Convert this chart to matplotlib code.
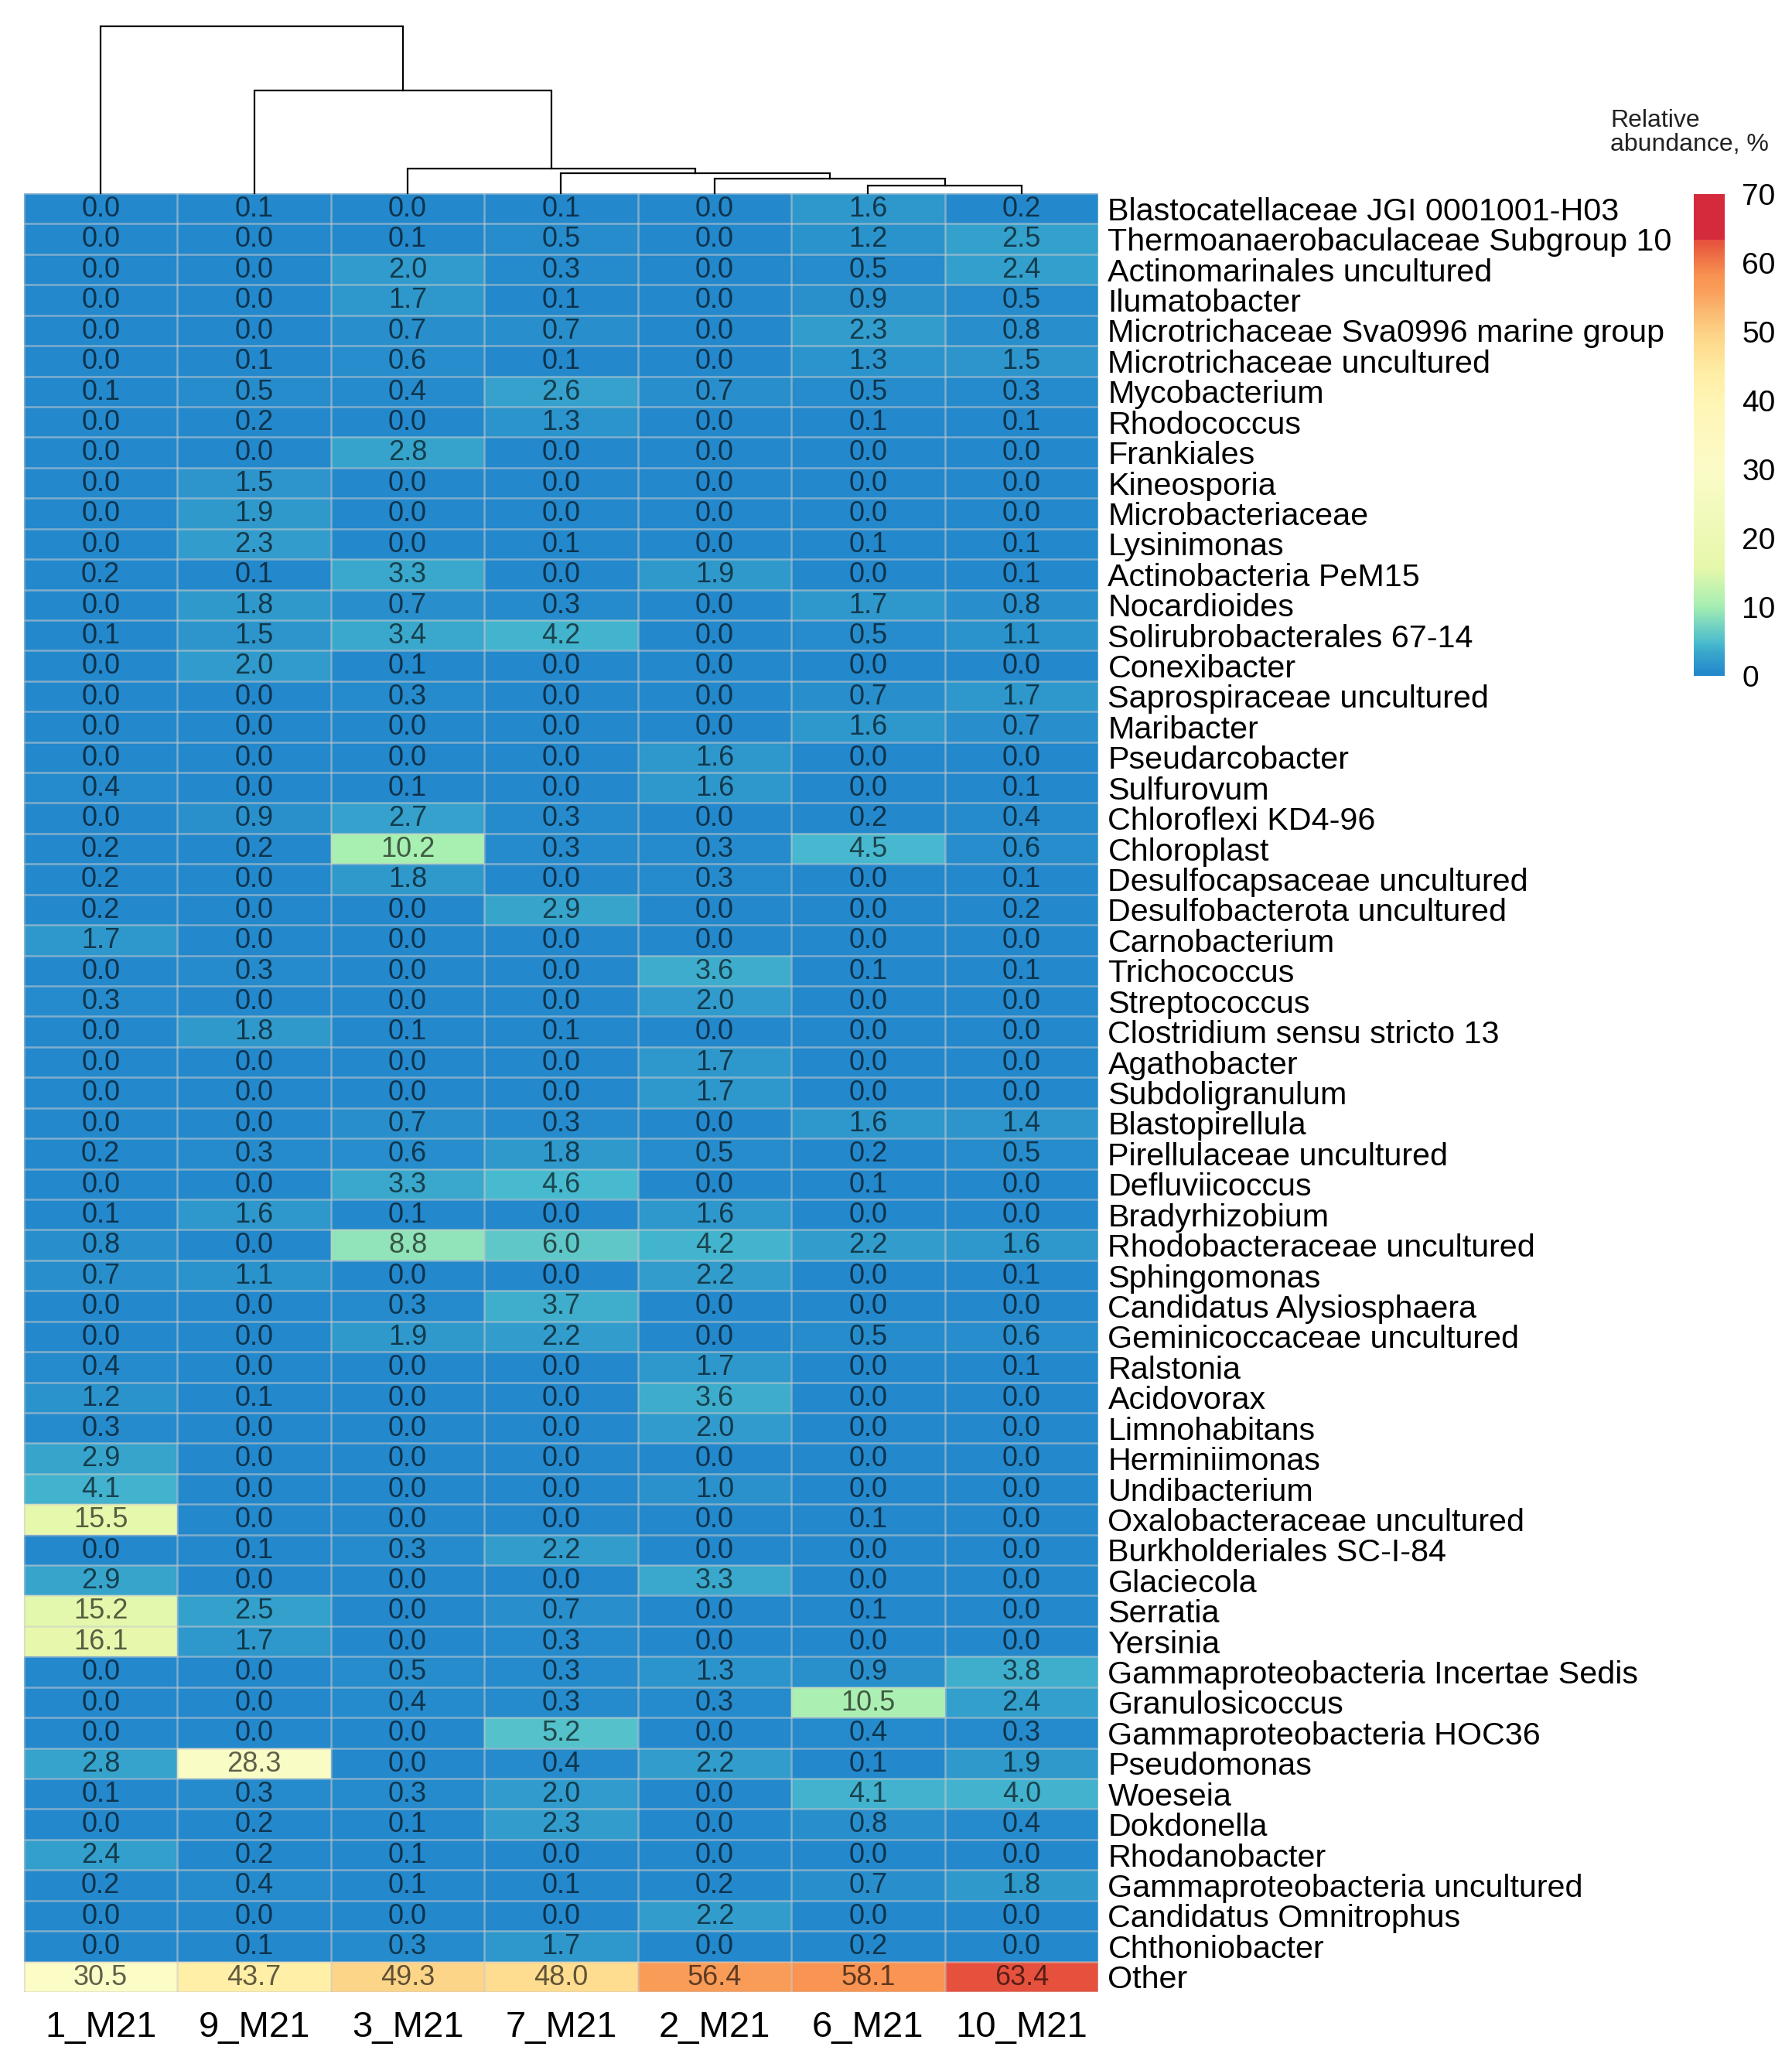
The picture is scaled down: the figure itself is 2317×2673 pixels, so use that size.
import numpy as np
import matplotlib
matplotlib.use("Agg")
import matplotlib.pyplot as plt
from matplotlib.colors import LinearSegmentedColormap, Normalize
from matplotlib.patches import Rectangle

plt.rcParams['font.family'] = ['Liberation Sans', 'DejaVu Sans']

# ---------------- data ----------------
samples = ["1_M21", "9_M21", "3_M21", "7_M21", "2_M21", "6_M21", "10_M21"]

taxa = [
    "Blastocatellaceae JGI 0001001-H03",
    "Thermoanaerobaculaceae Subgroup 10",
    "Actinomarinales uncultured",
    "Ilumatobacter",
    "Microtrichaceae Sva0996 marine group",
    "Microtrichaceae uncultured",
    "Mycobacterium",
    "Rhodococcus",
    "Frankiales",
    "Kineosporia",
    "Microbacteriaceae",
    "Lysinimonas",
    "Actinobacteria PeM15",
    "Nocardioides",
    "Solirubrobacterales 67-14",
    "Conexibacter",
    "Saprospiraceae uncultured",
    "Maribacter",
    "Pseudarcobacter",
    "Sulfurovum",
    "Chloroflexi KD4-96",
    "Chloroplast",
    "Desulfocapsaceae uncultured",
    "Desulfobacterota uncultured",
    "Carnobacterium",
    "Trichococcus",
    "Streptococcus",
    "Clostridium sensu stricto 13",
    "Agathobacter",
    "Subdoligranulum",
    "Blastopirellula",
    "Pirellulaceae uncultured",
    "Defluviicoccus",
    "Bradyrhizobium",
    "Rhodobacteraceae uncultured",
    "Sphingomonas",
    "Candidatus Alysiosphaera",
    "Geminicoccaceae uncultured",
    "Ralstonia",
    "Acidovorax",
    "Limnohabitans",
    "Herminiimonas",
    "Undibacterium",
    "Oxalobacteraceae uncultured",
    "Burkholderiales SC-I-84",
    "Glaciecola",
    "Serratia",
    "Yersinia",
    "Gammaproteobacteria Incertae Sedis",
    "Granulosicoccus",
    "Gammaproteobacteria HOC36",
    "Pseudomonas",
    "Woeseia",
    "Dokdonella",
    "Rhodanobacter",
    "Gammaproteobacteria uncultured",
    "Candidatus Omnitrophus",
    "Chthoniobacter",
    "Other",
]

abundance = [
    [0.0, 0.1, 0.0, 0.1, 0.0, 1.6, 0.2],
    [0.0, 0.0, 0.1, 0.5, 0.0, 1.2, 2.5],
    [0.0, 0.0, 2.0, 0.3, 0.0, 0.5, 2.4],
    [0.0, 0.0, 1.7, 0.1, 0.0, 0.9, 0.5],
    [0.0, 0.0, 0.7, 0.7, 0.0, 2.3, 0.8],
    [0.0, 0.1, 0.6, 0.1, 0.0, 1.3, 1.5],
    [0.1, 0.5, 0.4, 2.6, 0.7, 0.5, 0.3],
    [0.0, 0.2, 0.0, 1.3, 0.0, 0.1, 0.1],
    [0.0, 0.0, 2.8, 0.0, 0.0, 0.0, 0.0],
    [0.0, 1.5, 0.0, 0.0, 0.0, 0.0, 0.0],
    [0.0, 1.9, 0.0, 0.0, 0.0, 0.0, 0.0],
    [0.0, 2.3, 0.0, 0.1, 0.0, 0.1, 0.1],
    [0.2, 0.1, 3.3, 0.0, 1.9, 0.0, 0.1],
    [0.0, 1.8, 0.7, 0.3, 0.0, 1.7, 0.8],
    [0.1, 1.5, 3.4, 4.2, 0.0, 0.5, 1.1],
    [0.0, 2.0, 0.1, 0.0, 0.0, 0.0, 0.0],
    [0.0, 0.0, 0.3, 0.0, 0.0, 0.7, 1.7],
    [0.0, 0.0, 0.0, 0.0, 0.0, 1.6, 0.7],
    [0.0, 0.0, 0.0, 0.0, 1.6, 0.0, 0.0],
    [0.4, 0.0, 0.1, 0.0, 1.6, 0.0, 0.1],
    [0.0, 0.9, 2.7, 0.3, 0.0, 0.2, 0.4],
    [0.2, 0.2, 10.2, 0.3, 0.3, 4.5, 0.6],
    [0.2, 0.0, 1.8, 0.0, 0.3, 0.0, 0.1],
    [0.2, 0.0, 0.0, 2.9, 0.0, 0.0, 0.2],
    [1.7, 0.0, 0.0, 0.0, 0.0, 0.0, 0.0],
    [0.0, 0.3, 0.0, 0.0, 3.6, 0.1, 0.1],
    [0.3, 0.0, 0.0, 0.0, 2.0, 0.0, 0.0],
    [0.0, 1.8, 0.1, 0.1, 0.0, 0.0, 0.0],
    [0.0, 0.0, 0.0, 0.0, 1.7, 0.0, 0.0],
    [0.0, 0.0, 0.0, 0.0, 1.7, 0.0, 0.0],
    [0.0, 0.0, 0.7, 0.3, 0.0, 1.6, 1.4],
    [0.2, 0.3, 0.6, 1.8, 0.5, 0.2, 0.5],
    [0.0, 0.0, 3.3, 4.6, 0.0, 0.1, 0.0],
    [0.1, 1.6, 0.1, 0.0, 1.6, 0.0, 0.0],
    [0.8, 0.0, 8.8, 6.0, 4.2, 2.2, 1.6],
    [0.7, 1.1, 0.0, 0.0, 2.2, 0.0, 0.1],
    [0.0, 0.0, 0.3, 3.7, 0.0, 0.0, 0.0],
    [0.0, 0.0, 1.9, 2.2, 0.0, 0.5, 0.6],
    [0.4, 0.0, 0.0, 0.0, 1.7, 0.0, 0.1],
    [1.2, 0.1, 0.0, 0.0, 3.6, 0.0, 0.0],
    [0.3, 0.0, 0.0, 0.0, 2.0, 0.0, 0.0],
    [2.9, 0.0, 0.0, 0.0, 0.0, 0.0, 0.0],
    [4.1, 0.0, 0.0, 0.0, 1.0, 0.0, 0.0],
    [15.5, 0.0, 0.0, 0.0, 0.0, 0.1, 0.0],
    [0.0, 0.1, 0.3, 2.2, 0.0, 0.0, 0.0],
    [2.9, 0.0, 0.0, 0.0, 3.3, 0.0, 0.0],
    [15.2, 2.5, 0.0, 0.7, 0.0, 0.1, 0.0],
    [16.1, 1.7, 0.0, 0.3, 0.0, 0.0, 0.0],
    [0.0, 0.0, 0.5, 0.3, 1.3, 0.9, 3.8],
    [0.0, 0.0, 0.4, 0.3, 0.3, 10.5, 2.4],
    [0.0, 0.0, 0.0, 5.2, 0.0, 0.4, 0.3],
    [2.8, 28.3, 0.0, 0.4, 2.2, 0.1, 1.9],
    [0.1, 0.3, 0.3, 2.0, 0.0, 4.1, 4.0],
    [0.0, 0.2, 0.1, 2.3, 0.0, 0.8, 0.4],
    [2.4, 0.2, 0.1, 0.0, 0.0, 0.0, 0.0],
    [0.2, 0.4, 0.1, 0.1, 0.2, 0.7, 1.8],
    [0.0, 0.0, 0.0, 0.0, 2.2, 0.0, 0.0],
    [0.0, 0.1, 0.3, 1.7, 0.0, 0.2, 0.0],
    [30.5, 43.7, 49.3, 48.0, 56.4, 58.1, 63.4],
]

# column dendrogram: (left, right, height); leaves 0..6, new nodes numbered 7..
col_merges = [
    (5, 6, 10),
    (4, 7, 19),
    (3, 8, 26),
    (2, 9, 32),
    (1, 10, 133),
    (0, 11, 216),
]

legend_ticks = [0, 10, 20, 30, 40, 50, 60, 70]
legend_max = 70

# ---------------- style ----------------
W, H = 2317, 2673
fig = plt.figure(figsize=(W / 100, H / 100), dpi=100)

cmap_stops = [
    (0.0, "#2388cc"), (3.3, "#3aa8cc"), (4.5, "#48bacf"), (10.0, "#a6efb2"),
    (15.5, "#e6f8ac"), (30.0, "#fcfcc8"), (40.0, "#fff5b5"), (44.0, "#ffeea6"),
    (48.0, "#fedc90"), (50.0, "#fdd286"), (56.4, "#f99c58"), (58.1, "#f99452"),
    (63.4, "#e6513d"), (70.0, "#d42a3c"),
]
cmap = LinearSegmentedColormap.from_list(
    "abund", [(v / legend_max, c) for v, c in cmap_stops], N=512)
norm = Normalize(0, legend_max)

data = np.array(abundance)
nrow, ncol = data.shape

hm_l, hm_r, hm_t, hm_b = 31, 1420, 250, 2576
ax = fig.add_axes([hm_l / W, 1 - hm_b / H, (hm_r - hm_l) / W, (hm_b - hm_t) / H])
ax.pcolormesh(np.arange(ncol + 1), np.arange(nrow + 1), data, cmap=cmap, norm=norm)
ax.set_xlim(0, ncol)
ax.set_ylim(nrow, 0)

grid_col = (0.80, 0.80, 0.80, 0.55)
ax.hlines(np.arange(nrow + 1), 0, ncol, colors=[grid_col], lw=1.8, zorder=2)
ax.vlines(np.arange(ncol + 1), 0, nrow, colors=[grid_col], lw=1.8, zorder=2)

for i in range(nrow):
    for j in range(ncol):
        ax.text(j + 0.5, i + 0.52, f"{data[i, j]:.1f}", ha="center", va="center",
                fontsize=26, color="black", alpha=0.62, zorder=3)

for s in ax.spines.values():
    s.set_visible(False)
ax.yaxis.tick_right()
ax.set_yticks(np.arange(nrow) + 0.5)
ax.set_yticklabels(taxa, fontsize=29.7)
ax.set_xticks(np.arange(ncol) + 0.5)
ax.set_xticklabels(samples, fontsize=34)
ax.tick_params(axis="both", length=0)
ax.tick_params(axis="y", pad=9)
ax.tick_params(axis="x", pad=17)

# dendrogram
root_h = max(m[2] for m in col_merges)
dend_top = 34
axd = fig.add_axes([hm_l / W, 1 - hm_t / H, (hm_r - hm_l) / W, (hm_t - dend_top) / H])
axd.set_xlim(0, ncol)
axd.set_ylim(0, root_h)
axd.axis("off")
pos = {k: (k + 0.5, 0.0) for k in range(ncol)}
node = ncol
for a, b, h in col_merges:
    xa, ya = pos[a]
    xb, yb = pos[b]
    axd.plot([xa, xa, xb, xb], [ya, h, h, yb], color="black", lw=1.6,
             solid_joinstyle="miter", clip_on=False)
    pos[node] = ((xa + xb) / 2, h)
    node += 1

# colour legend
cb_l, cb_r, cb_t, cb_b = 2190, 2230, 251, 874
axc = fig.add_axes([cb_l / W, 1 - cb_b / H, (cb_r - cb_l) / W, (cb_b - cb_t) / H])
dmax = data.max()
grad = np.linspace(0, dmax, 256).reshape(-1, 1)
axc.imshow(grad, extent=[0, 1, 0, dmax], origin="lower", aspect="auto",
           cmap=cmap, norm=norm)
axc.add_patch(Rectangle((0, dmax), 1, legend_max - dmax, color=cmap(1.0), lw=0))
axc.set_xlim(0, 1)
axc.set_ylim(0, legend_max)
axc.set_xticks([])
axc.yaxis.tick_right()
axc.set_yticks(legend_ticks)
axc.set_yticklabels([str(t) for t in legend_ticks], fontsize=28)
axc.tick_params(axis="y", length=0, pad=16)
for s in axc.spines.values():
    s.set_visible(False)

fig.text(2082 / W, 1 - 202 / H, "Relative\nabundance, %", fontsize=23,
         ha="left", va="bottom", linespacing=1.05, color="#222222")

fig.savefig("out.png", dpi=100)
